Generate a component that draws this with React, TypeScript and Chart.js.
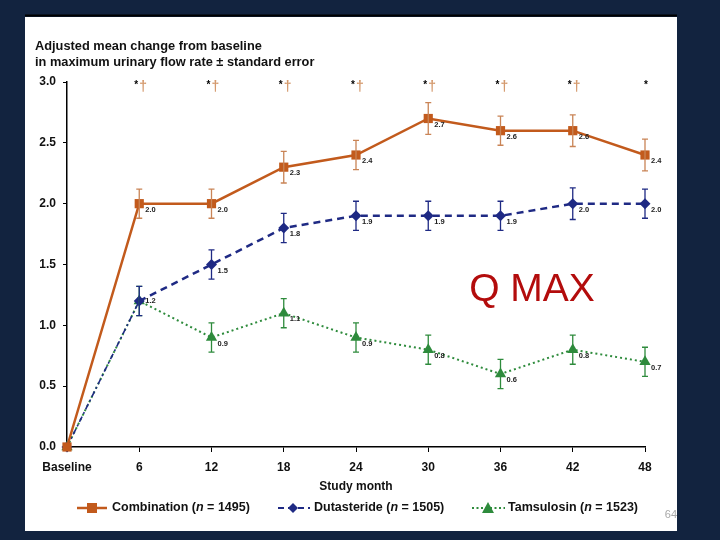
import React, { useEffect, useRef } from "react";
import { Chart, registerables } from "chart.js";

Chart.register(...registerables);

const months = [0, 6, 12, 18, 24, 30, 36, 42, 48];
const combination = [0, 2.0, 2.0, 2.3, 2.4, 2.7, 2.6, 2.6, 2.4];
const dutasteride = [0, 1.2, 1.5, 1.8, 1.9, 1.9, 1.9, 2.0, 2.0];
const tamsulosin = [0, 1.2, 0.9, 1.1, 0.9, 0.8, 0.6, 0.8, 0.7];
const combinationSE = [0, 0.12, 0.12, 0.13, 0.12, 0.13, 0.12, 0.13, 0.13];
const dutasterideSE = [0, 0.12, 0.12, 0.12, 0.12, 0.12, 0.12, 0.13, 0.12];
const tamsulosinSE = [0, 0.12, 0.12, 0.12, 0.12, 0.12, 0.12, 0.12, 0.12];
const significance = ["", "*†", "*†", "*†", "*†", "*†", "*†", "*†", "*"];
const yTicks = [0, 0.5, 1.0, 1.5, 2.0, 2.5, 3.0];
const seriesNames = ["Combination", "Dutasteride", "Tamsulosin"];
const seriesN = ["1495", "1505", "1523"];
const titleLines = [
  "Adjusted mean change from baseline",
  "in maximum urinary flow rate \u00b1 standard error",
];

const ORANGE = "#c25a1c";
const ORANGE_ERR = "#c98456";
const NAVY = "#1f2a84";
const GREEN = "#2e8b3c";
const BG = "#12233f";
const FONT = "'Liberation Sans', Arial, sans-serif";

const toXY = (arr: number[]) => arr.map((v, i) => ({ x: months[i], y: v }));

const decorPlugin = {
  id: "decor",
  beforeDraw(chart: any) {
    const ctx = chart.ctx;
    ctx.save();
    ctx.fillStyle = BG;
    ctx.fillRect(0, 0, chart.width, chart.height);
    ctx.fillStyle = "#ffffff";
    ctx.fillRect(25, 17, 652, 514);
    ctx.fillStyle = "#000000";
    ctx.fillRect(25, 14.5, 652, 2);
    ctx.restore();
  },
  afterDatasetsDraw(chart: any) {
    const ctx = chart.ctx;
    const xs = chart.scales.x;
    const ys = chart.scales.y;
    const errs = [combinationSE, dutasterideSE, tamsulosinSE];
    const vals = [combination, dutasteride, tamsulosin];
    const errColors = [ORANGE_ERR, NAVY, GREEN];
    ctx.save();
    for (let d = 2; d >= 0; d--) {
      ctx.strokeStyle = errColors[d];
      ctx.lineWidth = 1.3;
      ctx.setLineDash([]);
      for (let i = 1; i < months.length; i++) {
        const x = xs.getPixelForValue(months[i]);
        const yt = ys.getPixelForValue(vals[d][i] + errs[d][i]);
        const yb = ys.getPixelForValue(vals[d][i] - errs[d][i]);
        ctx.beginPath();
        ctx.moveTo(x, yt);
        ctx.lineTo(x, yb);
        ctx.moveTo(x - 3, yt);
        ctx.lineTo(x + 3, yt);
        ctx.moveTo(x - 3, yb);
        ctx.lineTo(x + 3, yb);
        ctx.stroke();
      }
    }
    ctx.restore();
  },
  afterDraw(chart: any) {
    const ctx = chart.ctx;
    const xs = chart.scales.x;
    const ys = chart.scales.y;
    const vals = [combination, dutasteride, tamsulosin];
    ctx.save();
    // value labels
    ctx.font = `bold 7.5px ${FONT}`;
    ctx.fillStyle = "#222222";
    ctx.textAlign = "left";
    ctx.textBaseline = "middle";
    for (let d = 0; d < 3; d++) {
      for (let i = 1; i < months.length; i++) {
        if (d === 2 && i === 1) continue;
        const x = xs.getPixelForValue(months[i]);
        const y = ys.getPixelForValue(vals[d][i]);
        const dy = d === 1 && i === 1 ? 0 : 6;
        ctx.fillText(vals[d][i].toFixed(1), x + 6, y + dy);
      }
    }
    // significance marks
    for (let i = 1; i < months.length; i++) {
      const x = xs.getPixelForValue(months[i]);
      const s = significance[i];
      if (s.length > 1) {
        ctx.fillStyle = "#000000";
        ctx.font = `bold 10px ${FONT}`;
        ctx.textAlign = "center";
        ctx.fillText("*", x - 3, 85);
        ctx.fillStyle = "#d49a6e";
        ctx.font = `bold 14px ${FONT}`;
        ctx.fillText("\u2020", x + 4, 87);
      } else if (s.length === 1) {
        ctx.fillStyle = "#000000";
        ctx.font = `bold 10px ${FONT}`;
        ctx.textAlign = "center";
        ctx.fillText("*", x + 1, 85);
      }
    }
    // title
    ctx.fillStyle = "#111111";
    ctx.font = `bold 12.8px ${FONT}`;
    ctx.textAlign = "left";
    ctx.fillText(titleLines[0], 35, 46);
    ctx.fillText(titleLines[1], 35, 62);
    // axis title
    ctx.font = `bold 12px ${FONT}`;
    ctx.textAlign = "center";
    ctx.fillText("Study month", (chart.chartArea.left + chart.chartArea.right) / 2, 487);
    // legend
    const legendY = 508;
    const items = [
      { x0: 77, x1: 107, mx: 92, text: 112, color: ORANGE, dash: [] as number[], width: 2.5, marker: "rect" },
      { x0: 278, x1: 310, mx: 293, text: 314, color: NAVY, dash: [6, 4], width: 2.2, marker: "diamond" },
      { x0: 472, x1: 505, mx: 488, text: 508, color: GREEN, dash: [2, 2.5], width: 2, marker: "tri" },
    ];
    items.forEach((it, k) => {
      ctx.strokeStyle = it.color;
      ctx.lineWidth = it.width;
      ctx.setLineDash(it.dash);
      ctx.beginPath();
      ctx.moveTo(it.x0, legendY);
      ctx.lineTo(it.x1, legendY);
      ctx.stroke();
      ctx.setLineDash([]);
      ctx.fillStyle = it.color;
      ctx.beginPath();
      if (it.marker === "rect") {
        ctx.rect(it.mx - 5, legendY - 5, 10, 10);
      } else if (it.marker === "diamond") {
        ctx.moveTo(it.mx, legendY - 5);
        ctx.lineTo(it.mx + 5, legendY);
        ctx.lineTo(it.mx, legendY + 5);
        ctx.lineTo(it.mx - 5, legendY);
        ctx.closePath();
      } else {
        ctx.moveTo(it.mx, legendY - 6);
        ctx.lineTo(it.mx + 6, legendY + 5);
        ctx.lineTo(it.mx - 6, legendY + 5);
        ctx.closePath();
      }
      ctx.fill();
      ctx.fillStyle = "#111111";
      ctx.textAlign = "left";
      let tx = it.text;
      const part1 = seriesNames[k] + " (";
      const part3 = " = " + seriesN[k] + ")";
      ctx.font = `bold 12.5px ${FONT}`;
      ctx.fillText(part1, tx, legendY);
      tx += ctx.measureText(part1).width;
      ctx.font = `italic bold 12.5px ${FONT}`;
      ctx.fillText("n", tx, legendY);
      tx += ctx.measureText("n").width;
      ctx.font = `bold 12.5px ${FONT}`;
      ctx.fillText(part3, tx, legendY);
    });
    // Q MAX
    ctx.fillStyle = "#b30c0c";
    ctx.font = `39px ${FONT}`;
    ctx.textAlign = "center";
    ctx.fillText("Q MAX", 532, 290);
    // page number
    ctx.fillStyle = "#a8a8a8";
    ctx.font = `11px ${FONT}`;
    ctx.textAlign = "right";
    ctx.fillText("64", 677, 515);
    ctx.restore();
  },
};

export default function App() {
  const ref = useRef<HTMLCanvasElement | null>(null);
  useEffect(() => {
    document.body.style.margin = "0";
    if (!ref.current) return;
    const chart = new Chart(ref.current, {
      type: "line",
      data: {
        datasets: [
          {
            label: seriesNames[0],
            data: toXY(combination),
            borderColor: ORANGE,
            backgroundColor: ORANGE,
            borderWidth: 2.5,
            pointStyle: "rect",
            pointRadius: 6.5,
            pointBorderWidth: 0,
            pointBackgroundColor: ORANGE,
            clip: false,
          } as any,
          {
            label: seriesNames[1],
            data: toXY(dutasteride),
            borderColor: NAVY,
            backgroundColor: NAVY,
            borderWidth: 2.5,
            borderDash: [7, 5],
            segment: {
              borderDash: (c: any) => (c.p0DataIndex === 0 ? [6, 3, 2, 3] : [7, 5]),
              borderWidth: (c: any) => (c.p0DataIndex === 0 ? 1.6 : 2.5),
            },
            pointStyle: "rectRot",
            pointRadius: 5.5,
            pointBorderWidth: 0,
            pointBackgroundColor: NAVY,
            clip: false,
          } as any,
          {
            label: seriesNames[2],
            data: toXY(tamsulosin),
            borderColor: GREEN,
            backgroundColor: GREEN,
            borderWidth: 2,
            borderDash: [2, 3],
            pointStyle: "triangle",
            pointRadius: 6.5,
            pointBorderWidth: 0,
            pointBackgroundColor: GREEN,
            clip: false,
          } as any,
        ],
      },
      options: {
        responsive: false,
        animation: false,
        layout: { padding: { left: 0, right: 75, top: 82, bottom: 0 } },
        plugins: {
          legend: { display: false },
          tooltip: { enabled: false },
          title: { display: false },
        },
        scales: {
          x: {
            type: "linear",
            min: 0,
            max: 48,
            afterBuildTicks: (s: any) => {
              s.ticks = months.map((v) => ({ value: v }));
            },
            afterFit: (s: any) => {
              s.height = 93;
            },
            grid: {
              display: true,
              drawOnChartArea: false,
              drawTicks: true,
              tickLength: 5,
              color: "#000000",
              lineWidth: 1,
            },
            border: { display: true, color: "#000000", width: 1.5 },
            ticks: {
              padding: 8,
              color: "#111111",
              font: { family: FONT, size: 12, weight: "bold" },
              callback: (v: any) => (v === 0 ? "Baseline" : String(v)),
              maxRotation: 0,
              autoSkip: false,
            },
          },
          y: {
            type: "linear",
            min: 0,
            max: 3,
            afterBuildTicks: (s: any) => {
              s.ticks = yTicks.map((v) => ({ value: v }));
            },
            afterFit: (s: any) => {
              s.width = 67;
            },
            grid: {
              display: true,
              drawOnChartArea: false,
              drawTicks: true,
              tickLength: 4,
              color: "#000000",
              lineWidth: 1,
            },
            border: { display: true, color: "#000000", width: 1.5 },
            ticks: {
              padding: 7,
              color: "#111111",
              font: { family: FONT, size: 12, weight: "bold" },
              callback: (v: any) => Number(v).toFixed(1),
            },
          },
        },
      },
      plugins: [decorPlugin],
    } as any);
    return () => chart.destroy();
  }, []);
  return (
    <div style={{ position: "fixed", left: 0, top: 0, width: 720, height: 540 }}>
      <canvas ref={ref} width={720} height={540} style={{ width: 720, height: 540, display: "block" }} />
    </div>
  );
}
